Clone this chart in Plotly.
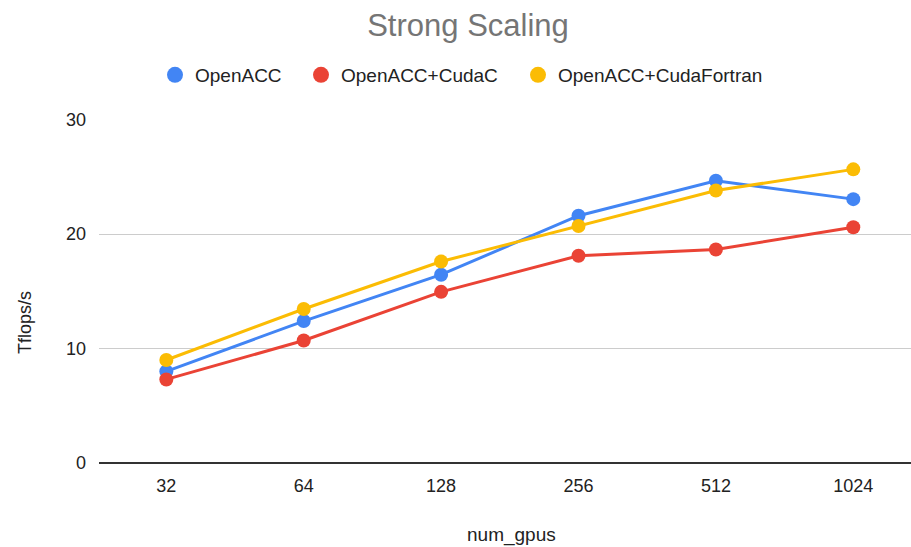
import plotly.graph_objects as go

# Strong-scaling throughput (Tflops/s) per GPU count
num_gpus = ["32", "64", "128", "256", "512", "1024"]
openacc = [8.0, 12.4, 16.45, 21.6, 24.65, 23.05]
openacc_cudac = [7.3, 10.7, 14.95, 18.1, 18.65, 20.6]
openacc_cudafortran = [9.0, 13.45, 17.6, 20.7, 23.8, 25.65]

series_names = ["OpenACC", "OpenACC+CudaC", "OpenACC+CudaFortran"]
series_colors = ["#4285F4", "#EA4335", "#FBBC04"]
series_values = [openacc, openacc_cudac, openacc_cudafortran]

FONT = "Liberation Sans, Arial, sans-serif"
W, H = 911, 547
M_L, M_R, M_T, M_B = 99, 0, 119, 84
PLOT_W, PLOT_H = W - M_L - M_R, H - M_T - M_B

fig = go.Figure()

for name, color, vals in zip(series_names, series_colors, series_values):
    fig.add_trace(go.Scatter(
        x=num_gpus, y=vals, name=name, mode="lines+markers",
        line=dict(color=color, width=3),
        marker=dict(color=color, size=14),
        showlegend=False, hoverinfo="x+y+name",
    ))

# one legend box per series so each dot/label pair sits at its own spot
legend_ids = ["legend", "legend2", "legend3"]
legend_left_px = [155, 301, 518]
for name, color, lid in zip(series_names, series_colors, legend_ids):
    fig.add_trace(go.Scatter(
        x=[None], y=[None], name=name, mode="markers",
        marker=dict(color=color, size=18), showlegend=True, legend=lid,
    ))

legend_style = dict(orientation="h", xref="container", yref="container",
                    xanchor="left", y=1 - 75 / H, yanchor="middle",
                    font=dict(size=19, color="#222222", family=FONT), itemwidth=30,
                    bgcolor="rgba(0,0,0,0)")

fig.update_layout(
    width=W, height=H,
    margin=dict(l=M_L, r=M_R, t=M_T, b=M_B),
    paper_bgcolor="white", plot_bgcolor="white",
    font=dict(family=FONT, color="#222222"),
    title=dict(text="Strong Scaling", x=468 / W, xanchor="center",
               y=1 - 25 / H, yanchor="middle", yref="container",
               font=dict(size=31, color="#757575", family=FONT)),
    xaxis=dict(type="category", range=[-0.49, 5.42], showgrid=False,
               showline=False, zeroline=False, ticks="",
               tickfont=dict(size=18, color="#222222"), ticklabelstandoff=10),
    yaxis=dict(range=[0, 30.05], dtick=10, tick0=0, showgrid=True,
               gridcolor="#cccccc", gridwidth=1.3, zeroline=True,
               zerolinecolor="#333333", zerolinewidth=1.6, showline=False,
               ticks="", tickfont=dict(size=18, color="#222222"),
               ticklabelstandoff=12),
    annotations=[
        dict(text="Tflops/s", textangle=-90, xref="paper", yref="paper",
             x=(25 - M_L) / PLOT_W, y=(H - M_B - 323) / PLOT_H,
             xanchor="center", yanchor="middle", showarrow=False,
             font=dict(size=18, color="#222222")),
        dict(text="num_gpus", xref="paper", yref="paper",
             x=(512 - M_L) / PLOT_W, y=-(535 - (H - M_B)) / PLOT_H,
             xanchor="center", yanchor="middle", showarrow=False,
             font=dict(size=19, color="#222222")),
    ],
)

for lid, left in zip(legend_ids, legend_left_px):
    fig.update_layout({lid: dict(legend_style, x=left / W)})

fig.write_html("out.html")
